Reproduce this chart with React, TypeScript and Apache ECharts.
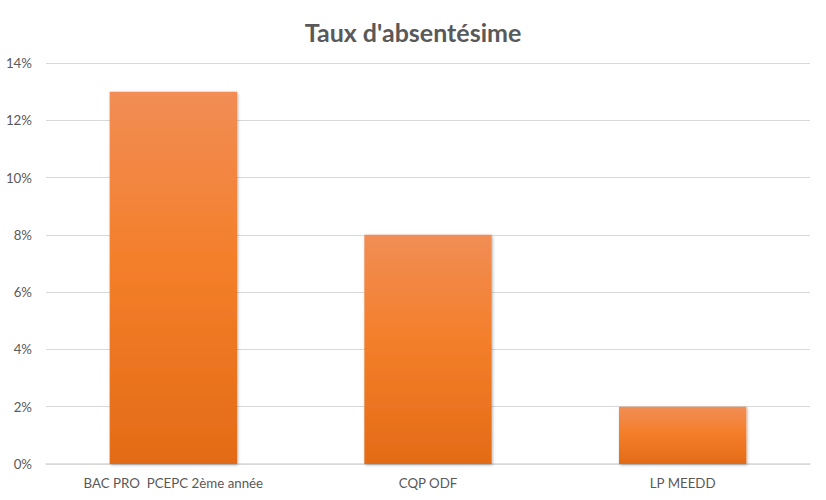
import * as React from "react";
import * as echarts from "echarts";
import { useEffect, useRef } from "react";

const categories = ["BAC PRO \u00a0PCEPC 2ème année", "CQP ODF", "LP MEEDD"];
const absenteeism = [13, 8, 2];
const yTicks = { min: 0, max: 14, interval: 2 };

const FONT = "Lato, 'Open Sans', sans-serif";

const App = () => {
  const chartRef = useRef<HTMLDivElement>(null);

  useEffect(() => {
    if (!chartRef.current) return;
    const myChart = echarts.init(chartRef.current, undefined, { renderer: "svg" });

    const option = {
      animation: false,
      title: {
        text: "Taux d'absentésime",
        left: "center",
        top: 14,
        textStyle: {
          fontFamily: FONT,
          fontSize: 25,
          fontWeight: "bold",
          color: "#595959",
        },
      },
      grid: { left: 46, right: 16, top: 63, bottom: 36, outerBoundsMode: "none" },
      xAxis: {
        type: "category",
        data: categories,
        axisTick: { show: false },
        axisLine: { lineStyle: { color: "#d9d9d9", width: 1.5 } },
        axisLabel: {
          interval: 0,
          fontFamily: FONT,
          fontSize: 13.3,
          color: "#595959",
          margin: 12,
        },
      },
      yAxis: {
        type: "value",
        min: yTicks.min,
        max: yTicks.max,
        interval: yTicks.interval,
        axisLabel: {
          formatter: "{value}%",
          fontFamily: FONT,
          fontSize: 13.3,
          color: "#595959",
          margin: 14,
        },
        splitLine: { lineStyle: { color: "#d9d9d9" } },
      },
      series: [
        {
          type: "bar",
          data: absenteeism,
          barWidth: "50%",
          itemStyle: {
            color: new echarts.graphic.LinearGradient(0, 0, 0, 1, [
              { offset: 0, color: "#f18d55" },
              { offset: 0.45, color: "#f47f2b" },
              { offset: 1, color: "#e36b16" },
            ]),
            shadowBlur: 3,
            shadowColor: "rgba(0,0,0,0.3)",
            shadowOffsetX: 1,
            shadowOffsetY: 1,
          },
        },
      ],
    };

    myChart.setOption(option);

    return () => {
      myChart.dispose();
    };
  }, []);

  // absolute so the body's 8px margin doesn't shift the chart
  return (
    <div
      ref={chartRef}
      style={{ position: "absolute", left: 0, top: 0, width: 826, height: 500 }}
    />
  );
};

export default App;
